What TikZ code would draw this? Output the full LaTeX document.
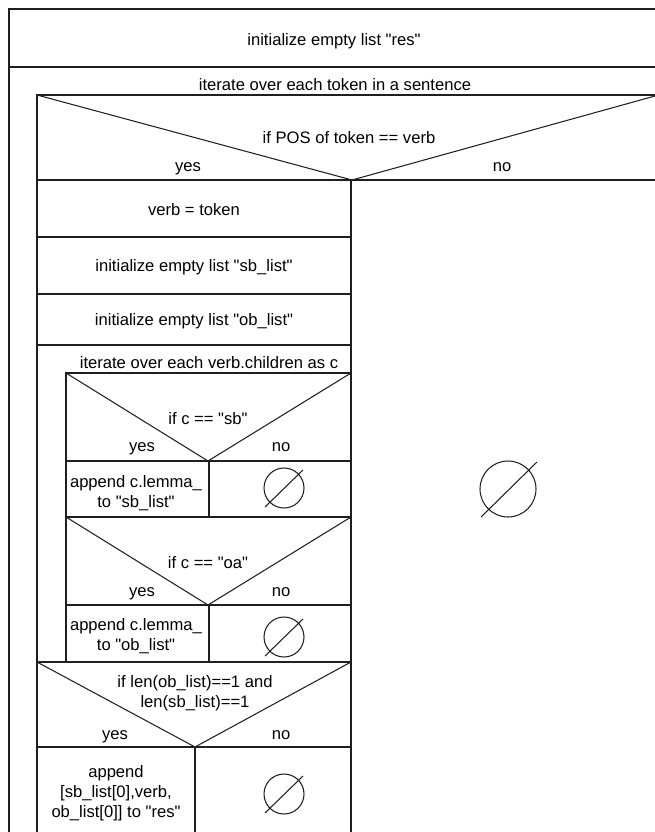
\documentclass[tikz,border=0pt]{standalone}
\usepackage{fontspec}
\newfontfamily\diafont{Liberation Sans}
\begin{document}
\begin{tikzpicture}[x=1pt,y=-1pt,
  ln/.style={line width=1.05pt, draw=black!88},
  txt/.style={inner sep=0pt, font=\diafont\fontsize{16.6}{19.5}\selectfont, text height=12pt, text depth=3.5pt},
  mtxt/.style={inner sep=0pt, align=center, font=\diafont\fontsize{16.6}{19.8}\selectfont},
  emptyset/.style={ln}]
\useasboundingbox (0,0) rectangle (654,832);
% outer frame and first statement
\draw[ln] (9,845) -- (9,9) -- (660,9);
\draw[ln] (9,67) -- (660,67);
% token loop body
\draw[ln] (37,845) -- (37,95) -- (660,95);
% decision: POS == verb
\draw[ln] (37,95) -- (352,180) -- (655,96);
\draw[ln] (37,180) -- (660,180);
\draw[ln] (351,180) -- (351,845);
% yes branch statements
\draw[ln] (37,237) -- (351,237);
\draw[ln] (37,294) -- (351,294);
\draw[ln] (37,345) -- (351,345);
% verb.children loop body
\draw[ln] (66,662) -- (66,373) -- (351,373);
% decision c == sb
\draw[ln] (66,373) -- (208,461) -- (351,373);
\draw[ln] (66,461) -- (351,461);
\draw[ln] (209,461) -- (209,517);
\draw[ln] (66,517) -- (351,517);
% decision c == oa
\draw[ln] (66,517) -- (208,605) -- (351,517);
\draw[ln] (66,605) -- (351,605);
\draw[ln] (209,605) -- (209,662);
\draw[ln] (37,662) -- (351,662);
% decision len
\draw[ln] (37,662) -- (195,747) -- (351,662);
\draw[ln] (37,747) -- (351,747);
\draw[ln] (195,747) -- (195,845);
% empty-set symbols
\draw[emptyset] (508,489) circle[radius=28pt] (481,517) -- (537,462);
\draw[emptyset] (284,488) circle[radius=20pt] (265,507) -- (303,470);
\draw[emptyset] (284,637) circle[radius=20pt] (265,656) -- (303,619);
\draw[emptyset] (284,794) circle[radius=20pt] (265,813) -- (303,776);
% texts
\node[txt] (t0) at (334,41) {initialize empty list "res"};
\node[txt] (t1) at (335,86) {iterate over each token in a sentence};
\node[txt] (d1) at (349,139) {if POS of token == verb};
\node[txt] (d1y) at (188,167) {yes};
\node[txt] (d1n) at (502,167) {no};
\node[txt] (s1) at (194,211) {verb = token};
\node[txt] (s2) at (194,267) {initialize empty list "sb\_list"};
\node[txt] (s3) at (194,321) {initialize empty list "ob\_list"};
\node[txt] (l2) at (209,364) {iterate over each verb.children as c};
\node[txt] (d2) at (208,420) {if c == "sb"};
\node[txt] (d2y) at (142,447) {yes};
\node[txt] (d2n) at (281,447) {no};
\node[mtxt] (a1) at (136,493) {append c.lemma\_\\to "sb\_list"};
\node[txt] (d3) at (208,564) {if c == "oa"};
\node[txt] (d3y) at (142,592) {yes};
\node[txt] (d3n) at (281,592) {no};
\node[mtxt] (a2) at (136,636) {append c.lemma\_\\to "ob\_list"};
\node[mtxt] (d4) at (195,693) {if len(ob\_list)==1 and\\len(sb\_list)==1};
\node[txt] (d4y) at (115,735) {yes};
\node[txt] (d4n) at (281,735) {no};
\node[mtxt] (a3) at (116,793) {append\\{}[sb\_list[0],verb,\\ob\_list[0]] to "res"};
\end{tikzpicture}
\end{document}
